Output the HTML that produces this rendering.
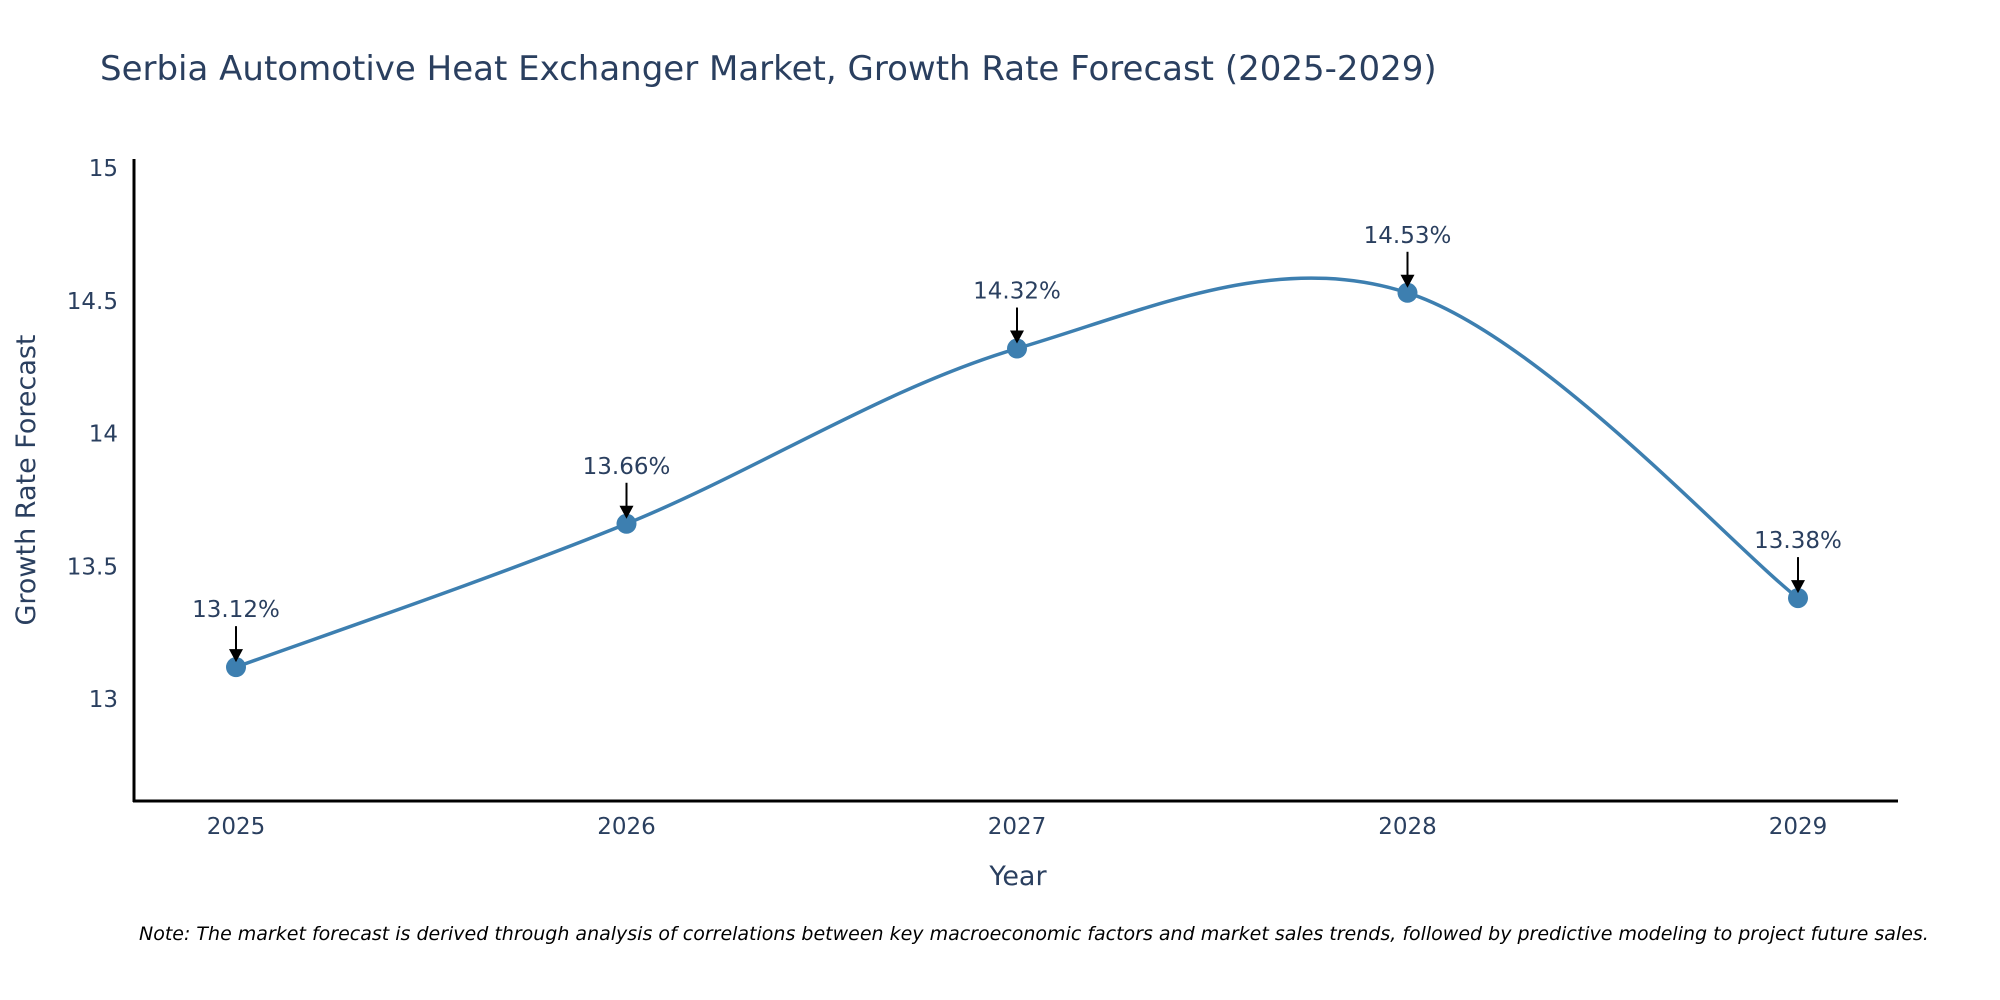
<!DOCTYPE html>
<html><head><meta charset="utf-8"><style>
body{margin:0;background:#fff;}
svg{display:block;font-family:"DejaVu Sans","Liberation Sans",sans-serif;}
</style></head><body>
<svg id="chart" width="2000" height="1000">
<text x="100" y="80" font-size="34" fill="#2a3f5f">Serbia Automotive Heat Exchanger Market, Growth Rate Forecast (2025-2029)</text>
<g id="yticks"></g>
<g id="xticks"></g>
<line x1="134" y1="159" x2="134" y2="802" stroke="#000" stroke-width="3"/>
<line x1="133" y1="801" x2="1898" y2="801" stroke="#000" stroke-width="3"/>
<text x="1018" y="885" font-size="27" fill="#2a3f5f" text-anchor="middle">Year</text>
<text transform="translate(35,480) rotate(-90)" font-size="27" fill="#2a3f5f" text-anchor="middle">Growth Rate Forecast</text>
<g id="series"></g>
<text x="139" y="940" font-size="19" font-style="italic" fill="#000">Note: The market forecast is derived through analysis of correlations between key macroeconomic factors and market sales trends, followed by predictive modeling to project future sales.</text>
</svg>
<script>
const years = [2025, 2026, 2027, 2028, 2029];
const values = [13.12, 13.66, 14.32, 14.53, 13.38];
const labels = ["13.12%", "13.66%", "14.32%", "14.53%", "13.38%"];
const yTicks = [13, 13.5, 14, 14.5, 15];
const yTickLabels = ["13", "13.5", "14", "14.5", "15"];

const NS = "http://www.w3.org/2000/svg";
function xs(v){ return 236 + (v - 2025) * (1798 - 236) / 4; }
function ys(v){ return 699 - (v - 13) * 265.5; }
function mk(tag, attrs, parent){ const e = document.createElementNS(NS, tag); for (const k in attrs) e.setAttribute(k, attrs[k]); parent.appendChild(e); return e; }

const yg = document.getElementById('yticks');
yTicks.forEach((t, i) => {
  const el = mk('text', {x: 118, y: ys(t) + 8, 'font-size': 23, fill: '#2a3f5f', 'text-anchor': 'end'}, yg);
  
  
  el.textContent = yTickLabels[i];
});
const xg = document.getElementById('xticks');
years.forEach(y => {
  const el = mk('text', {x: xs(y), y: 834, 'font-size': 23, fill: '#2a3f5f', 'text-anchor': 'middle'}, xg);
  
  
  el.textContent = String(y);
});

const sg = document.getElementById('series');
const P = years.map((y, i) => [xs(y), ys(values[i])]);
let d = 'M' + P[0][0] + ',' + P[0][1];
const s = 0.17;
for (let i = 0; i < P.length - 1; i++) {
  const p0 = P[Math.max(0, i - 1)], p1 = P[i], p2 = P[i + 1], p3 = P[Math.min(P.length - 1, i + 2)];
  const c1 = [p1[0] + (p2[0] - p0[0]) * s, p1[1] + (p2[1] - p0[1]) * s];
  const c2 = [p2[0] - (p3[0] - p1[0]) * s, p2[1] - (p3[1] - p1[1]) * s];
  d += ' C' + c1 + ' ' + c2 + ' ' + p2;
}
const line = mk('path', {d: d, fill: 'none', stroke: '#3d7fb0', 'stroke-width': 3.5}, sg);


P.forEach((p, i) => {
  const c = mk('circle', {cx: p[0], cy: p[1], r: 10, fill: '#3d7fb0'}, sg);
  
  
  const a = mk('line', {x1: p[0], y1: p[1] - 41, x2: p[0], y2: p[1] - 14, stroke: '#000', 'stroke-width': 2}, sg);
  
  
  const h = mk('polygon', {points: (p[0]-7)+','+(p[1]-18)+' '+(p[0]+7)+','+(p[1]-18)+' '+p[0]+','+(p[1]-5), fill: '#000'}, sg);
  
  
  const t = mk('text', {x: p[0], y: p[1] - 50, 'font-size': 23, fill: '#2a3f5f', 'text-anchor': 'middle'}, sg);
  
  
  t.textContent = labels[i];
});
</script>
</body></html>
